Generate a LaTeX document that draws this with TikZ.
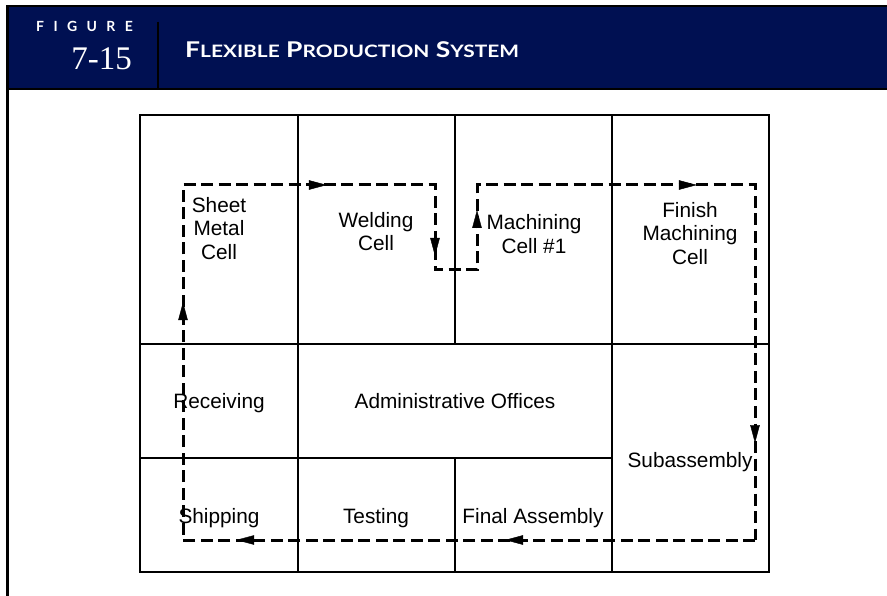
\documentclass[tikz,border=0pt]{standalone}
\usepackage{fontspec}
\setmainfont{Liberation Sans}
\newfontfamily\hdfont{Lato}
\newfontfamily\ttlfont[FakeStretch=1.22]{Lato}
\newfontfamily\numfont{Liberation Serif}
\usetikzlibrary{arrows.meta,decorations.markings}
\definecolor{navy}{RGB}{0,16,82}
\begin{document}
\begin{tikzpicture}[x=1pt,y=-1pt,
  gridline/.style={line width=1.6pt,line cap=rect},
  flowline/.style={line width=3pt,dash pattern=on 12pt off 5.5pt,line join=miter},
  lbl/.style={font=\fontsize{20.8}{23.5}\selectfont,align=center,inner sep=0pt},
  hdr/.style={text=white,inner sep=0pt},
  flowtip/.style={decoration={markings,mark=at position #1 with {\arrow{Triangle[length=18pt,width=9.5pt]}}}}
]
\useasboundingbox (0,0) rectangle (887,596);
% header band
\fill[navy] (7.5,6.5) rectangle (887,89);
\draw[line width=2pt] (7.5,6.5) -- (887,6.5);
\draw[line width=2.6pt] (7.5,89) -- (887,89);
\draw[line width=2.2pt] (7.5,5.5) -- (7.5,596);
\draw[line width=2.4pt] (158,22) -- (158,89);
\node[hdr,anchor=base west,font=\hdfont\bfseries\fontsize{14}{14}\selectfont] (figword) at (36,31.7)
  {F\kern9.4pt I\kern9.4pt G\kern9.4pt U\kern9.4pt R\kern9.4pt E};
\node[hdr,anchor=base east,font=\numfont\fontsize{33}{33}\selectfont] (fignum) at (132,70) {7-15};
\node[hdr,anchor=base west,font=\ttlfont\bfseries\fontsize{21.7}{21.7}\selectfont] (title) at (185,57.3)
  {F{\fontsize{17.1}{17.1}\selectfont LEXIBLE} P{\fontsize{17.1}{17.1}\selectfont RODUCTION} S{\fontsize{17.1}{17.1}\selectfont YSTEM}};
% grid
\draw[gridline] (140,115) rectangle (769,572);
\draw[gridline] (298,115) -- (298,572);
\draw[gridline] (455,115) -- (455,344);
\draw[gridline] (455,458) -- (455,572);
\draw[gridline] (612,115) -- (612,572);
\draw[gridline] (140,344) -- (769,344);
\draw[gridline] (140,458) -- (612,458);
% labels
\node[lbl] (sheet) at (219,228.5) {Sheet\\Metal\\Cell};
\node[lbl] (weld) at (376,231.5) {Welding\\Cell};
\node[lbl] (mach) at (534,234) {Machining\\Cell \#1};
\node[lbl] (finish) at (690,233.5) {Finish\\Machining\\Cell};
\node[lbl,anchor=base] (recv) at (219,408) {Receiving};
\node[lbl,anchor=base] (admin) at (455,408) {Administrative Offices};
\node[lbl,anchor=base] (subasm) at (690,467) {Subassembly};
\node[lbl,anchor=base] (ship) at (219,523) {Shipping};
\node[lbl,anchor=base] (test) at (376,523) {Testing};
\node[lbl,anchor=base] (final) at (533,523) {Final Assembly};
% flow path
\coordinate (p1) at (755,540);
\coordinate (p2) at (183,540);
\coordinate (p3) at (183,185);
\coordinate (p4) at (435,185);
\coordinate (p5) at (435,270);
\coordinate (p6) at (477,270);
\coordinate (p7) at (477,185);
\coordinate (p8) at (755,185);
\draw[flowline] (p1) -- (p2) -- (p3) -- (p4) -- (p5) -- (p6) -- (p7) -- (p8) -- cycle;
\path[postaction={decorate},flowtip=0.437] (p1) -- (p2);
\path[postaction={decorate},flowtip=0.907] (p1) -- (p2);
\path[postaction={decorate},flowtip=0.670] (p2) -- (p3);
\path[postaction={decorate},flowtip=0.571] (p3) -- (p4);
\path[postaction={decorate},flowtip=0.835] (p4) -- (p5);
\path[postaction={decorate},flowtip=0.706] (p6) -- (p7);
\path[postaction={decorate},flowtip=0.791] (p7) -- (p8);
\path[postaction={decorate},flowtip=0.727] (p8) -- (p1);
\end{tikzpicture}
\end{document}
